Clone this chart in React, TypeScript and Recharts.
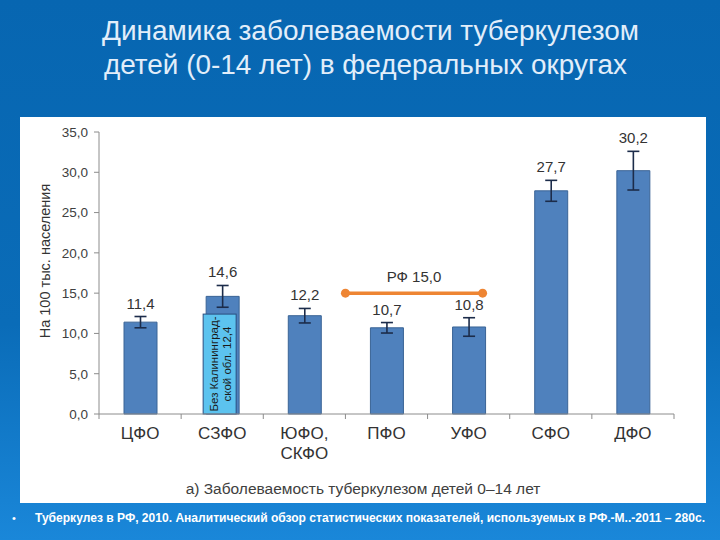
import React from 'react';
import { BarChart, Bar, XAxis, YAxis, ErrorBar, LabelList, ReferenceLine } from 'recharts';

const categories = ['ЦФО', 'СЗФО', 'ЮФО,\nСКФО', 'ПФО', 'УФО', 'СФО', 'ДФО'];
const values = [11.4, 14.6, 12.2, 10.7, 10.8, 27.7, 30.2];
const errors = [0.7, 1.35, 0.9, 0.65, 1.15, 1.3, 2.4];
const withoutKaliningrad = [null, 12.4, null, null, null, null, null];
const yTicks = [0, 5, 10, 15, 20, 25, 30, 35];
const rfValue = 15.0;
const rfFrom = 'ПФО';
const rfTo = 'УФО';

const titleLines = ['Динамика заболеваемости туберкулезом', 'детей (0-14 лет) в федеральных округах'];
const yLabel = 'На 100 тыс. населения';
const caption = 'а) Заболеваемость туберкулезом детей 0–14 лет';
const footer = 'Туберкулез в РФ, 2010. Аналитический обзор статистических показателей, используемых в РФ.-М..-2011 – 280с.';
const insetLines = ['Без Калининград-', 'ской обл. 12,4'];

const data = categories.map((c, i) => ({
  cat: c,
  value: values[i],
  err: errors[i],
  nokal: withoutKaliningrad[i],
}));

const FONT = '"Liberation Sans", Arial, sans-serif';
const NARROW = '"Liberation Sans Narrow", "Liberation Sans", Arial, sans-serif';
const fmt = (v: number) => v.toFixed(1).replace('.', ',');

const XTick = (props: any) => {
  const { x, y, payload, index } = props;
  const off = payload && payload.offset ? payload.offset : 41.07;
  const lines = String(payload.value).split('\n');
  return (
    <g>
      <line x1={x - off} y1={y} x2={x - off} y2={y + 5} stroke="#8c8c8c" />
      {index === categories.length - 1 && <line x1={x + off} y1={y} x2={x + off} y2={y + 5} stroke="#8c8c8c" />}
      <text x={x} y={y + 25} textAnchor="middle" fontSize={17} fill="#333" fontFamily={FONT}>
        {lines.map((l, i) => (
          <tspan key={i} x={x} dy={i === 0 ? 0 : 20}>{l}</tspan>
        ))}
      </text>
    </g>
  );
};

const ValueLabel = (props: any) => {
  const { x, y, width, height, value, index } = props;
  if (value == null) return null;
  const ppu = height / value;
  const top = y - errors[index] * ppu;
  return (
    <text x={x + width / 2} y={top - 8} textAnchor="middle" fontSize={15} fill="#333" fontFamily={FONT}>
      {fmt(value)}
    </text>
  );
};

const InsetShape = (props: any) => {
  const { x, y, width, height } = props;
  if (!height) return null;
  return <rect x={x - 3} y={y} width={width} height={height} fill="#5CC3EF" stroke="#2a4f80" strokeWidth={1} />;
};

const InsetLabel = (props: any) => {
  const { x, y, width, height, value } = props;
  if (value == null) return null;
  const cx = x - 3 + width / 2;
  const cy = y + height / 2;
  return (
    <text transform={`translate(${cx},${cy}) rotate(-90)`} textAnchor="middle" fontSize={11.5} fill="#1a1a1a" fontFamily={FONT}>
      <tspan x={0} dy={-2}>{insetLines[0]}</tspan>
      <tspan x={0} dy={13}>{insetLines[1]}</tspan>
    </text>
  );
};

const YLabel = (props: any) => {
  const vb = props.viewBox || { x: 0, y: 15, width: 79, height: 282 };
  const cx = vb.x + 30;
  const cy = vb.y + vb.height / 2 - 12;
  return (
    <text transform={`translate(${cx},${cy}) rotate(-90)`} textAnchor="middle" fontSize={14.5} fill="#333" fontFamily={FONT}>
      {yLabel}
    </text>
  );
};

const RfLine = (props: any) => {
  const { x1, y1, x2 } = props;
  const band = x2 - x1;
  const a = x1 - band / 2;
  const b = x2 + band * 0.17;
  return (
    <g>
      <line x1={a} y1={y1} x2={b} y2={y1} stroke="#EE8533" strokeWidth={3.5} />
      <circle cx={a} cy={y1} r={4.5} fill="#EE8533" />
      <circle cx={b} cy={y1} r={4.5} fill="#EE8533" />
      <text x={(a + b) / 2} y={y1 - 11} textAnchor="middle" fontSize={15} fill="#333" fontFamily={FONT}>
        {'РФ ' + fmt(rfValue)}
      </text>
    </g>
  );
};

export default function App() {
  return (
    <div
      style={{
        position: 'absolute',
        left: 0,
        top: 0,
        width: 720,
        height: 540,
        overflow: 'hidden',
        background: 'linear-gradient(to bottom, #0766B1 0%, #0A6CB8 60%, #1A87D9 100%)',
        fontFamily: FONT,
      }}
    >
      <svg width={720} height={540} style={{ position: 'absolute', left: 0, top: 0 }}>
        <text x={102} y={40} fontSize={27} fill="#E2EEFA" fontFamily={NARROW} textLength={537} lengthAdjust="spacingAndGlyphs">
          {titleLines[0]}
        </text>
        <text x={104} y={74} fontSize={27} fill="#E2EEFA" fontFamily={NARROW} textLength={523} lengthAdjust="spacingAndGlyphs">
          {titleLines[1]}
        </text>
        <text x={12} y={522} fontSize={11} fill="#fff" fontFamily={FONT}>•</text>
        <text x={35} y={522} fontSize={12} fontWeight="bold" fill="#fff" fontFamily={NARROW} textLength={670} lengthAdjust="spacingAndGlyphs">
          {footer}
        </text>
      </svg>
      <div style={{ position: 'absolute', left: 20, top: 117, width: 686, height: 386, background: '#fff' }}>
        <BarChart width={686} height={386} data={data} margin={{ top: 15, right: 32, bottom: 39, left: 0 }}>
          <XAxis
            dataKey="cat"
            xAxisId="a"
            height={50}
            interval={0}
            axisLine={{ stroke: '#8c8c8c' }}
            tickLine={false}
            tickSize={0}
            tickMargin={0}
            tick={<XTick />}
          />
          <XAxis dataKey="cat" xAxisId="b" hide />
          <YAxis
            width={79}
            domain={[0, 35]}
            ticks={yTicks}
            tickFormatter={fmt}
            axisLine={{ stroke: '#8c8c8c' }}
            tickLine={{ stroke: '#8c8c8c' }}
            tickSize={5}
            tickMargin={6}
            tick={{ fontSize: 13.5, fill: '#404040', fontFamily: FONT }}
            label={<YLabel />}
          />
          <Bar dataKey="value" xAxisId="a" barSize={33} fill="#4F81BD" stroke="#3A6496" strokeWidth={1} isAnimationActive={false}>
            <ErrorBar dataKey="err" width={6} stroke="#1C2C4A" strokeWidth={1.6} direction="y" />
            <LabelList dataKey="value" content={<ValueLabel />} />
          </Bar>
          <Bar dataKey="nokal" xAxisId="b" barSize={33} shape={<InsetShape />} isAnimationActive={false}>
            <LabelList dataKey="nokal" content={<InsetLabel />} />
          </Bar>
          <ReferenceLine
            xAxisId="a"
            segment={[{ x: rfFrom, y: rfValue }, { x: rfTo, y: rfValue }]}
            shape={<RfLine />}
            ifOverflow="visible"
          />
        </BarChart>
        <div
          style={{
            position: 'absolute',
            left: 0,
            top: 363,
            width: 686,
            textAlign: 'center',
            fontSize: 15.5,
            color: '#404040',
            fontFamily: FONT,
          }}
        >
          {caption}
        </div>
      </div>
    </div>
  );
}
